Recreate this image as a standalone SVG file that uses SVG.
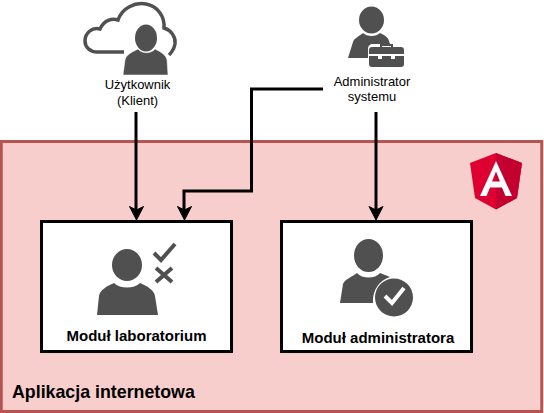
<svg xmlns="http://www.w3.org/2000/svg" width="544" height="413" viewBox="0 0 544 413">
<style>
text{font-family:"Liberation Sans",Arial,sans-serif;fill:#000;text-anchor:middle}
.s{font-size:13px}
.b{font-size:15px;font-weight:bold}
.box{fill:#fff;stroke:#000;stroke-width:3}
.ic{fill:#505050}
.conn{fill:none;stroke:#000;stroke-width:3}
.head{fill:#000;stroke:#000}
</style>
<g id="app">
<rect x="1.250" y="141.500" width="540.500" height="270" fill="#f8cecc" stroke="#b85450" stroke-width="3"/>
<text x="12" y="398" style="text-anchor:start;font-size:17.800px;font-weight:bold">Aplikacja internetowa</text>
</g>
<g id="angular">
<path d="M496 153L470 163L475 198L496 209.500L517 198L522 163Z" fill="#dd0031"/>
<path d="M496 153L522 163L517 198L496 209.500Z" fill="#c3002f"/>
<path d="M496 161L480 196H486.500L490 187.500H502L505.500 196H512ZM492 181.500L496 171.500L500 181.500Z" fill="#fff"/>
</g>
<g id="user">
<path d="M124 52H97C90 52 85 47 85 41C85 33 92 27 100 29C104 20 112 18 118 20C122 8 135 2 146 4C157 6 165 16 164 28C171 30 176 37 175 44C174 49 172 52 169 55" fill="none" stroke="#505050" stroke-width="3.500"/>
<path class="ic" d="M123 75L125 60C126 55 132 52 138 49C142 54 151 54 155 49C161 52 166 55 167 60L168 75Z" stroke="#fff" stroke-width="0.500"/>
<ellipse class="ic" cx="146" cy="38" rx="11" ry="13.500"/>
<text class="s" x="137.500" y="89">Użytkownik</text>
<text class="s" x="137.500" y="105">(Klient)</text>
</g>
<g id="admin">
<ellipse class="ic" cx="371.500" cy="20" rx="12.500" ry="13.500"/>
<path class="ic" d="M348 58L353 42C354 38 360 36 363 33C367 37 376 37 380 33C384 35 388 37 389 41L390 44H373C370 44 368 46 368 49V58Z"/>
<path class="ic" d="M369 59V50C369 48 370 47 372 47H380V44H393V47H401C403 47 404 48 404 50V54H369ZM382 47H391V46H382ZM369 56H378V59H382V56H391V59H395V56H404V64C404 66 403 67 401 67H372C370 67 369 66 369 64Z"/>
<text class="s" x="372" y="85.500">Administrator</text>
<text class="s" x="372" y="100.500">systemu</text>
</g>
<g id="lab">
<rect class="box" x="41.500" y="221.500" width="190" height="130"/>
<ellipse class="ic" cx="127" cy="265" rx="15" ry="16"/>
<path class="ic" d="M97 315L99 296C100 290 107 286 114 283C120 289 134 289 140 283C147 286 154 290 155 296L158 315Z"/>
<path d="M154 253L161 260L175 244" fill="none" stroke="#505050" stroke-width="4"/>
<path d="M156 268L172 282M172 268L156 282" fill="none" stroke="#505050" stroke-width="4"/>
<text class="b" x="136.500" y="341">Moduł laboratorium</text>
</g>
<g id="adm">
<rect class="box" x="281.500" y="221.500" width="190" height="130"/>
<ellipse class="ic" cx="368.500" cy="255.500" rx="14.500" ry="16.500"/>
<path class="ic" d="M340 303L343 284C344 280 353 276 357 273C362 279 375 279 380 273L390 277C380 280 372 290 373 303Z"/>
<circle class="ic" cx="394" cy="297.500" r="19"/>
<path d="M385 296L392 303L404 288" fill="none" stroke="#fff" stroke-width="4"/>
<text class="b" x="378" y="343">Moduł administratora</text>
</g>
<g id="connectors">
<path class="conn" d="M136 112V210"/>
<path class="head" d="M136.500 220L129.500 206.500L136.500 210L143.500 206.500Z"/>
<path class="conn" d="M323 89H251.500V191H184V210"/>
<path class="head" d="M184.500 220L177.500 206.500L184.500 210L191.500 206.500Z"/>
<path class="conn" d="M376 112V210"/>
<path class="head" d="M376 220L369 206.500L376 210L383 206.500Z"/>
</g>
</svg>
